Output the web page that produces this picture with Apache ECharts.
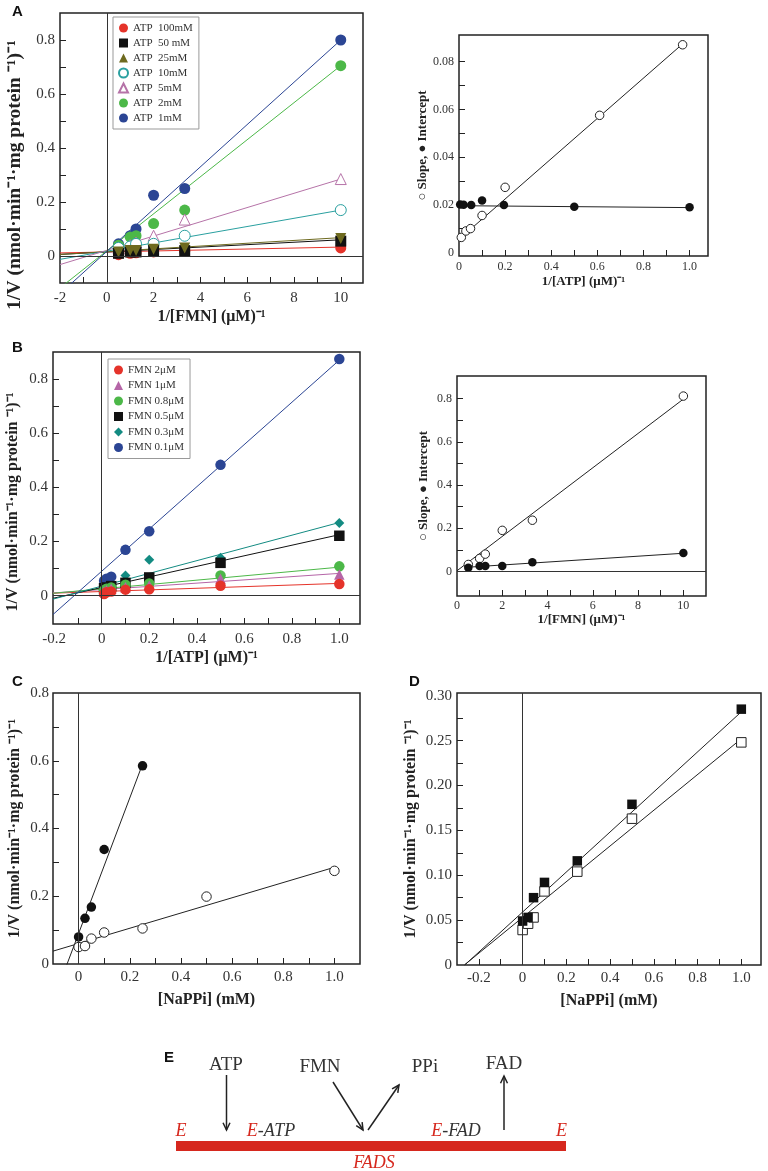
<!DOCTYPE html>
<html><head><meta charset="utf-8">
<script src="https://cdn.jsdelivr.net/npm/echarts@6/dist/echarts.min.js"></script>
<style>html,body{margin:0;padding:0;background:#fff}#c{width:768px;height:1171px}</style>
</head><body><div id="c"></div>
<script>
// ---------------- DATA ----------------
// Panel A: 1/V vs 1/[FMN] at several ATP levels
const fmnInvA = [0.5, 1, 1.25, 2, 3.33, 10];
const atpLegend = ['ATP  100mM', 'ATP  50 mM', 'ATP  25mM', 'ATP  10mM', 'ATP  5mM', 'ATP  2mM', 'ATP  1mM'];
const vATP100 = [0.005, 0.010, 0.012, 0.015, 0.018, 0.030];
const vATP50  = [0.010, 0.015, 0.015, 0.020, 0.020, 0.055];
const vATP25  = [0.015, 0.020, 0.020, 0.025, 0.030, 0.065];
const vATP10  = [0.030, 0.035, 0.045, 0.045, 0.075, 0.170];
const vATP5   = [0.030, 0.040, 0.050, 0.075, 0.135, 0.285];
const vATP2   = [0.040, 0.070, 0.075, 0.120, 0.170, 0.705];
const vATP1   = [0.045, 0.075, 0.100, 0.225, 0.250, 0.800];
const fitSlopeA = [0.0018, 0.0045, 0.0052, 0.0152, 0.0264, 0.0686, 0.0783];
const fitIntA   = [0.015, 0.015, 0.016, 0.018, 0.021, 0.019, 0.017];

// Panel A inset: slope / intercept vs 1/[ATP]
const atpInvSlopeX = [0.01, 0.03, 0.05, 0.10, 0.20, 0.61, 0.97];
const slopeA       = [0.0063, 0.0090, 0.0100, 0.0155, 0.0273, 0.0575, 0.0871];
const atpInvIntX   = [0.005, 0.02, 0.053, 0.10, 0.195, 0.50, 1.0];
const interceptA   = [0.0201, 0.0200, 0.0199, 0.0218, 0.0199, 0.0192, 0.0189];
const insetAFit = {slope: [0.0845, -0.0008], intercept: [0.0055, 0.0196], xEnd: [0.97, 1.0]};

// Panel B: 1/V vs 1/[ATP] at several FMN levels
const atpInvB = [0.01, 0.02, 0.04, 0.10, 0.20, 0.50, 1.0];
const fmnLegend = ['FMN 2μM', 'FMN 1μM', 'FMN 0.8μM', 'FMN 0.5μM', 'FMN 0.3μM', 'FMN 0.1μM'];
const vFMN2  = [0.006, 0.012, 0.015, 0.022, 0.023, 0.036, 0.043];
const vFMN1  = [0.015, 0.020, 0.025, 0.031, 0.037, 0.062, 0.078];
const vFMN08 = [0.020, 0.025, 0.030, 0.040, 0.045, 0.074, 0.108];
const vFMN05 = [0.027, 0.030, 0.035, 0.047, 0.067, 0.121, 0.221];
const vFMN03 = [0.022, 0.028, 0.035, 0.074, 0.132, 0.140, 0.268];
const vFMN01 = [0.055, 0.062, 0.070, 0.169, 0.238, 0.483, 0.874];
const fitSlopeB = [0.030, 0.060, 0.080, 0.195, 0.235, 0.780];
const fitIntB   = [0.015, 0.022, 0.025, 0.030, 0.035, 0.090];

// Panel B inset: slope / intercept vs 1/[FMN]
const fmnInvB    = [0.5, 1, 1.25, 2, 3.33, 10];
const slopeB     = [0.032, 0.060, 0.080, 0.190, 0.237, 0.812];
const interceptB = [0.017, 0.025, 0.025, 0.025, 0.042, 0.085];
const insetBFit = {slope: [0.0795, 0.0068], intercept: [0.003, 0.016], xStart: [0, 0.5]};

// Panel C: 1/V vs [NaPPi]
const ppiC       = [0, 0.025, 0.05, 0.10, 0.25, 0.50, 1.0];
const cFilled    = [0.080, 0.135, 0.168, 0.338, 0.585];
const cOpen      = [0.050, 0.053, 0.075, 0.093, 0.105, 0.199, 0.275];
const cFit = {slope: [2.0, 0.225], intercept: [0.09, 0.0605], xEnd: [0.25, 1.0]};

// Panel D: 1/V vs [NaPPi]
const ppiD    = [0, 0.025, 0.05, 0.10, 0.25, 0.50, 1.0];
const dFilled = [0.049, 0.053, 0.075, 0.092, 0.116, 0.179, 0.285];
const dOpen   = [0.039, 0.046, 0.053, 0.082, 0.104, 0.163, 0.248];
const dFit = {slope: [0.223, 0.199], intercept: [0.059, 0.053]};

// Tick / label values
const aXLabels = [-2, 0, 2, 4, 6, 8, 10];
const aXTicks  = [-1, 0, 1, 2, 3, 4, 5, 6, 7, 8, 9, 10];
const aYLabels = [0, 0.2, 0.4, 0.6, 0.8];
const aYTicks  = [0, 0.1, 0.2, 0.3, 0.4, 0.5, 0.6, 0.7, 0.8];
const aiXLabels = [0, 0.2, 0.4, 0.6, 0.8, 1.0];
const aiXTicks  = [0.1, 0.2, 0.3, 0.4, 0.5, 0.6, 0.7, 0.8, 0.9, 1.0];
const aiYLabels = [0, 0.02, 0.04, 0.06, 0.08];
const aiYTicks  = [0.01, 0.02, 0.03, 0.04, 0.05, 0.06, 0.07, 0.08];
const bXLabels = [-0.2, 0, 0.2, 0.4, 0.6, 0.8, 1.0];
const bXTicks  = [-0.1, 0, 0.1, 0.2, 0.3, 0.4, 0.5, 0.6, 0.7, 0.8, 0.9, 1.0];
const bYLabels = [0, 0.2, 0.4, 0.6, 0.8];
const bYTicks  = [0, 0.1, 0.2, 0.3, 0.4, 0.5, 0.6, 0.7, 0.8];
const biXLabels = [0, 2, 4, 6, 8, 10];
const biXTicks  = [1, 2, 3, 4, 5, 6, 7, 8, 9, 10];
const biYLabels = [0, 0.2, 0.4, 0.6, 0.8];
const biYTicks  = [0.1, 0.2, 0.3, 0.4, 0.5, 0.6, 0.7, 0.8];
const cXLabels = [0, 0.2, 0.4, 0.6, 0.8, 1.0];
const cXTicks  = [0, 0.1, 0.2, 0.3, 0.4, 0.5, 0.6, 0.7, 0.8, 0.9, 1.0];
const cYLabels = [0, 0.2, 0.4, 0.6, 0.8];
const cYTicks  = [0.1, 0.2, 0.3, 0.4, 0.5, 0.6, 0.7];
const dXLabels = [-0.2, 0, 0.2, 0.4, 0.6, 0.8, 1.0];
const dXTicks  = [-0.2, -0.1, 0, 0.1, 0.2, 0.3, 0.4, 0.5, 0.6, 0.7, 0.8, 0.9, 1.0];
const dYLabels = [0, 0.05, 0.10, 0.15, 0.20, 0.25, 0.30];
const dYTicks  = [0.025, 0.05, 0.075, 0.1, 0.125, 0.15, 0.175, 0.2, 0.225, 0.25, 0.275];

// ---------------- STYLES ----------------
const SERIF = 'Liberation Serif, Times New Roman, serif';
const yNameMain = '1/V (nmol·min⁻¹·mg protein ⁻¹)⁻¹';
const stylesA = [
  {symbol: 'circle', color: '#e5332a'},
  {symbol: 'rect', color: '#111111'},
  {symbol: 'triangle', color: '#6e6a1f', rotate: 180},
  {symbol: 'circle', color: '#2aa0a0', open: true},
  {symbol: 'triangle', color: '#b673a8', open: true},
  {symbol: 'circle', color: '#4cb848'},
  {symbol: 'circle', color: '#2b4594'}
];
const lineColA = ['#e5332a', '#111111', '#6e6a1f', '#2aa0a0', '#b673a8', '#4cb848', '#2b4594'];
const stylesB = [
  {symbol: 'circle', color: '#e5332a'},
  {symbol: 'triangle', color: '#b565a7'},
  {symbol: 'circle', color: '#4cb848'},
  {symbol: 'rect', color: '#111111'},
  {symbol: 'diamond', color: '#138b82'},
  {symbol: 'circle', color: '#2b4594'}
];
const lineColB = ['#e5332a', '#b565a7', '#4cb848', '#111111', '#138b82', '#2b4594'];

// ---------------- BUILD ----------------
const series = [];
function scatter(name, gi, xs, ys, st, size) {
  series.push({
    type: 'scatter', name, xAxisIndex: gi, yAxisIndex: gi,
    data: xs.map((x, i) => [x, ys[i]]),
    symbol: st.symbol, symbolSize: size * (st.symbol === 'diamond' ? 0.95 : 1), symbolRotate: st.rotate || 0,
    itemStyle: st.open ? {color: '#fff', borderColor: st.color, borderWidth: 1, opacity: 1} : {color: st.color, borderWidth: 0, opacity: 1},
    z: 3, silent: true
  });
}
function fit(gi, m, b, x0, x1, color, zero) {
  const s = {
    type: 'line', name: 'fit' + series.length, xAxisIndex: gi, yAxisIndex: gi,
    data: [[x0, b + m * x0], [x1, b + m * x1]],
    symbol: 'none', lineStyle: {color, width: 1}, silent: true, z: 2, clip: true
  };
  if (zero) {
    s.markLine = {
      silent: true, symbol: ['none', 'none'], label: {show: false},
      lineStyle: {color: '#333', width: 1, type: 'solid'},
      emphasis: {disabled: true}, data: zero
    };
  }
  series.push(s);
}

// Panel A
const aVals = [vATP100, vATP50, vATP25, vATP10, vATP5, vATP2, vATP1];
aVals.forEach((v, i) => fit(0, fitSlopeA[i], fitIntA[i], -2, 10, lineColA[i], i === 0 ? [{xAxis: 0}, {yAxis: 0}] : null));
[6, 5, 4, 3, 0, 1, 2].forEach(i => scatter(atpLegend[i], 0, fmnInvA, aVals[i], stylesA[i], 11));

// Panel A inset
fit(1, insetAFit.slope[0], insetAFit.intercept[0], 0, insetAFit.xEnd[0], '#222');
fit(1, insetAFit.slope[1], insetAFit.intercept[1], 0, insetAFit.xEnd[1], '#222');
scatter('A slope', 1, atpInvSlopeX, slopeA, {symbol: 'circle', color: '#222', open: true}, 8.5);
scatter('A intercept', 1, atpInvIntX, interceptA, {symbol: 'circle', color: '#111'}, 8.5);

// Panel B
const bVals = [vFMN2, vFMN1, vFMN08, vFMN05, vFMN03, vFMN01];
bVals.forEach((v, i) => fit(2, fitSlopeB[i], fitIntB[i], -0.205, 1.0, lineColB[i], i === 0 ? [{xAxis: 0}, {yAxis: 0}] : null));
[5, 4, 3, 2, 1, 0].forEach(i => scatter(fmnLegend[i], 2, atpInvB, bVals[i], stylesB[i], 10.5));

// Panel B inset
fit(3, insetBFit.slope[0], insetBFit.intercept[0], insetBFit.xStart[0], 10, '#222', [{yAxis: 0}]);
fit(3, insetBFit.slope[1], insetBFit.intercept[1], insetBFit.xStart[1], 10, '#222');
scatter('B slope', 3, fmnInvB, slopeB, {symbol: 'circle', color: '#222', open: true}, 8.5);
scatter('B intercept', 3, fmnInvB, interceptB, {symbol: 'circle', color: '#111'}, 8.5);

// Panel C
fit(4, cFit.slope[0], cFit.intercept[0], -0.1, cFit.xEnd[0], '#222', [{xAxis: 0}]);
fit(4, cFit.slope[1], cFit.intercept[1], -0.1, cFit.xEnd[1], '#222');
scatter('C filled', 4, ppiC.slice(0, cFilled.length), cFilled, {symbol: 'circle', color: '#111'}, 9.5);
scatter('C open', 4, ppiC, cOpen, {symbol: 'circle', color: '#222', open: true}, 9.5);

// Panel D
fit(5, dFit.slope[0], dFit.intercept[0], -0.265, 1.0, '#222', [{xAxis: 0}]);
fit(5, dFit.slope[1], dFit.intercept[1], -0.265, 1.0, '#222');
scatter('D open', 5, ppiD, dOpen, {symbol: 'rect', color: '#222', open: true}, 9.5);
scatter('D filled', 5, ppiD, dFilled, {symbol: 'rect', color: '#111'}, 9.5);

// Axes
function fmt(d) { return v => (Math.abs(v) < 1e-9 ? '0' : v.toFixed(d)); }
function axis(gi, min, max, labels, ticks, d, name, gap, fs, nfs, margin, namePad) {
  return {
    type: 'value', gridIndex: gi, min, max,
    axisLine: {show: false, onZero: false},
    splitLine: {show: false},
    axisTick: {show: true, inside: true, length: 6, customValues: ticks, lineStyle: {color: '#222', width: 1}},
    axisLabel: {customValues: labels, formatter: fmt(d), fontFamily: SERIF, fontSize: fs, color: '#333', margin},
    name, nameLocation: 'middle', nameGap: gap,
    nameTextStyle: {fontFamily: SERIF, fontWeight: 'bold', fontSize: nfs, color: '#222', padding: namePad || 0}
  };
}
const xAxis = [
  axis(0, -2, 10.95, aXLabels, aXTicks, 0, '1/[FMN] (μM)⁻¹', 26, 15, 16, 8),
  axis(1, 0, 1.08, aiXLabels, aiXTicks, 1, '1/[ATP] (μM)⁻¹', 19, 12, 13, 5),
  axis(2, -0.205, 1.087, bXLabels, bXTicks, 1, '1/[ATP] (μM)⁻¹', 26, 15, 16, 8),
  axis(3, 0, 11, biXLabels, biXTicks, 0, '1/[FMN] (μM)⁻¹', 17, 12, 13, 4),
  axis(4, -0.1, 1.1, cXLabels, cXTicks, 1, '[NaPPi] (mM)', 28, 15, 16, 6),
  axis(5, -0.3, 1.09, dXLabels, dXTicks, 1, '[NaPPi] (mM)', 28, 15, 16, 6)
];
const yAxis = [
  axis(0, -0.1, 0.9, aYLabels, aYTicks, 1, yNameMain, 35, 15, 19.5, 5, [0, 54, 0, 0]),
  axis(1, -0.0015, 0.0912, aiYLabels, aiYTicks, 2, '○ Slope, ● Intercept', 27, 12, 13, 5),
  axis(2, -0.105, 0.9, bYLabels, bYTicks, 1, yNameMain, 32, 15, 16, 5, [0, 28, 0, 0]),
  axis(3, -0.114, 0.905, biYLabels, biYTicks, 1, '○ Slope, ● Intercept', 27, 12, 13, 5),
  axis(4, 0, 0.8, cYLabels, cYTicks, 1, yNameMain, 30, 15, 16, 4),
  axis(5, 0, 0.303, dYLabels, dYTicks, 2, yNameMain, 38, 15, 16, 5)
];
const gridBase = {show: true, borderColor: '#222', borderWidth: 1.5, backgroundColor: 'transparent', containLabel: false};
const grid = [
  {left: 60, top: 13, width: 303, height: 270},
  {left: 459, top: 35, width: 249, height: 221},
  {left: 53, top: 352, width: 307, height: 272},
  {left: 457, top: 376, width: 249, height: 220},
  {left: 53, top: 693, width: 307, height: 271},
  {left: 457, top: 693, width: 304, height: 272}
].map(g => Object.assign({}, gridBase, g));

const legendBase = {
  orient: 'vertical', selectedMode: false, itemWidth: 9, itemHeight: 9,
  borderColor: '#999', borderWidth: 1, backgroundColor: '#fff',
  textStyle: {fontFamily: SERIF, fontSize: 11, color: '#333', lineHeight: 12}
};
const legend = [
  Object.assign({}, legendBase, {data: atpLegend, left: 113, top: 17, itemGap: 3, padding: [5, 6, 5, 5]}),
  Object.assign({}, legendBase, {data: fmnLegend, left: 108, top: 359, itemGap: 3.5, padding: [5, 6, 5, 6]})
];

// Panel E diagram + panel letters
const dark = '#333';
const red = '#d6281e';
function letter(t, x, y) {
  return {type: 'text', x, y, style: {text: t, fill: '#111', font: 'bold 15px Liberation Sans, Arial, sans-serif', textAlign: 'left', textVerticalAlign: 'top'}};
}
function label(t, x, y, color, font) {
  return {type: 'text', x, y, style: {text: t, fill: color, font, textAlign: 'center', textVerticalAlign: 'middle'}};
}
function arrow(x1, y1, x2, y2) {
  const a = Math.atan2(y2 - y1, x2 - x1), L = 8, w = 0.45;
  const h1 = [x2 - L * Math.cos(a - w), y2 - L * Math.sin(a - w)];
  const h2 = [x2 - L * Math.cos(a + w), y2 - L * Math.sin(a + w)];
  return [
    {type: 'polyline', shape: {points: [[x1, y1], [x2, y2]]}, style: {stroke: '#222', lineWidth: 1.5, fill: null}},
    {type: 'polyline', shape: {points: [h1, [x2, y2], h2]}, style: {stroke: '#222', lineWidth: 1.5, fill: null}}
  ];
}
const itFont = 'italic 18px Liberation Serif, Times New Roman, serif';
const upFont = '19px Liberation Serif, Times New Roman, serif';
const richIt = {
  r: {fontStyle: 'italic', fontSize: 18, fontFamily: SERIF, color: red, fill: red},
  k: {fontStyle: 'italic', fontSize: 18, fontFamily: SERIF, color: dark, fill: dark}
};
const graphic = [
  letter('A', 12, 4), letter('B', 12, 340), letter('C', 12, 674), letter('D', 409, 674), letter('E', 164, 1050),
  label('ATP', 226, 1065, dark, upFont),
  label('FMN', 320, 1067, dark, upFont),
  label('PPi', 425, 1067, dark, upFont),
  label('FAD', 504, 1064, dark, upFont),
  ...arrow(226.5, 1075, 226.5, 1130),
  ...arrow(333, 1082, 363, 1130),
  ...arrow(368, 1130, 399, 1085),
  ...arrow(504, 1130, 504, 1076),
  {type: 'rect', shape: {x: 176, y: 1141, width: 390, height: 10}, style: {fill: red}},
  label('E', 181, 1131, red, itFont),
  {type: 'text', x: 271, y: 1131, style: {text: '{r|E}{k|-ATP}', textAlign: 'center', textVerticalAlign: 'middle', font: itFont, rich: richIt}},
  {type: 'text', x: 456, y: 1131, style: {text: '{r|E}{k|-FAD}', textAlign: 'center', textVerticalAlign: 'middle', font: itFont, rich: richIt}},
  label('E', 561.5, 1131, red, itFont),
  label('FADS', 374, 1163, red, itFont)
];

const chart = echarts.init(document.getElementById('c'), null, {renderer: 'canvas'});
chart.setOption({
  animation: false,
  backgroundColor: '#fff',
  grid, xAxis, yAxis, legend, series, graphic
});
</script></body></html>
